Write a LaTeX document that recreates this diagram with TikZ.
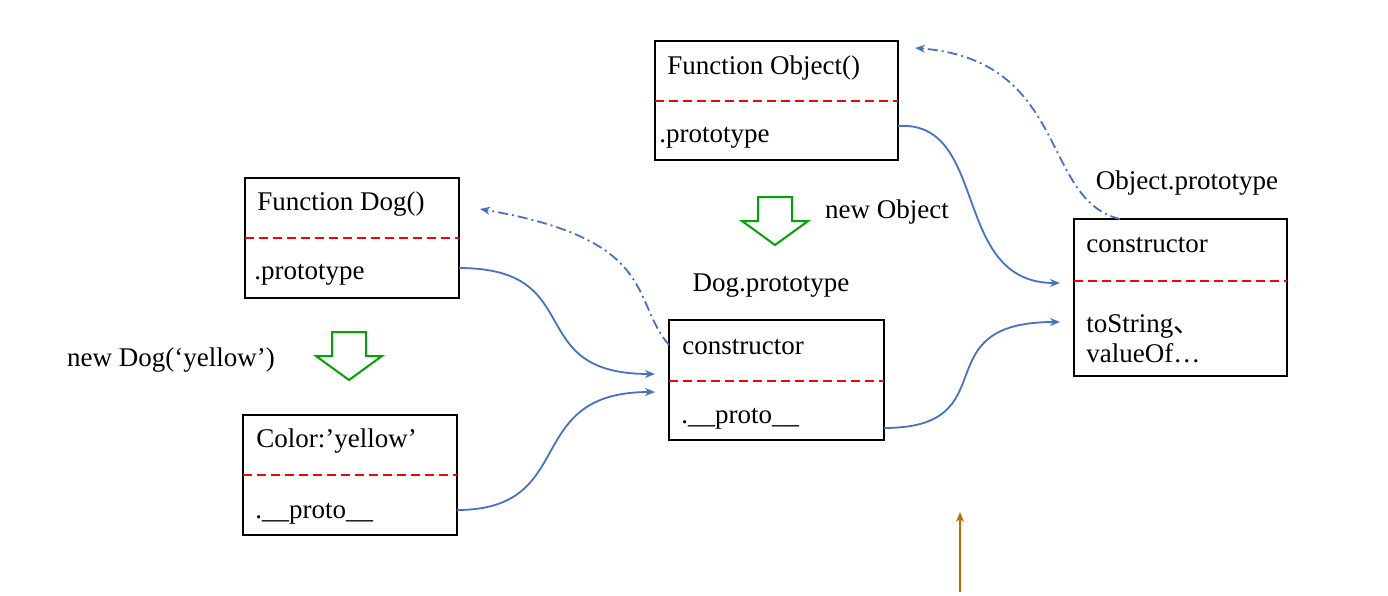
\documentclass[tikz,border=0pt]{standalone}
\usepackage{fontspec}
\setmainfont{Liberation Serif}
\newfontfamily\cjk{Noto Sans CJK SC}
\usetikzlibrary{arrows.meta}
\definecolor{lnk}{HTML}{4472C4}
\begin{document}
\begin{tikzpicture}[x=0.5pt,y=-0.5pt,
  box/.style={draw,line width=0.9pt},
  sep/.style={red,line width=1.3pt,dash pattern=on 4.5pt off 2.5pt},
  txt/.style={font=\fontsize{13.5}{15}\selectfont,anchor=west,inner sep=0},
  lbl/.style={font=\fontsize{13.5}{15}\selectfont,inner sep=0},
  link/.style={draw=lnk,line width=0.9pt,-{Stealth[length=5pt,width=4pt]}},
  dlink/.style={link,dash pattern=on 5pt off 2pt on 1pt off 2pt},
  hollow/.style={draw=green!65!black,line width=1pt,fill=white}]
\useasboundingbox (0,0) rectangle (1388,595);
% boxes
\node[box,minimum width=121.5pt,minimum height=59.5pt] (fo) at (776.5,100.5) {};
\draw[sep] (655,101) -- (898,101);
\node[txt] (fot) at (667,68) {Function Object()};
\node[txt] (fop) at (659,138) {.prototype};

\node[box,minimum width=107pt,minimum height=60pt] (fd) at (352,238) {};
\draw[sep] (245,238) -- (459,238);
\node[txt] (fdt) at (257,204) {Function Dog()};
\node[txt] (fdp) at (254,275) {.prototype};

\node[box,minimum width=107pt,minimum height=60pt] (cb) at (350,475) {};
\draw[sep] (243,475) -- (457,475);
\node[txt] (cbt) at (256,441) {Color:’yellow’};
\node[txt] (cbp) at (255,514) {.\_\_proto\_\_};

\node[box,minimum width=107.5pt,minimum height=60pt] (dp) at (776.5,380) {};
\draw[sep] (669,381) -- (884,381);
\node[txt] (dpt) at (682,347) {constructor};
\node[txt] (dpp) at (681,419) {.\_\_proto\_\_};

\node[box,minimum width=106.5pt,minimum height=78.5pt] (op) at (1180.5,297.5) {};
\draw[sep] (1074,281) -- (1287,281);
\node[txt] (opt) at (1086,245) {constructor};
\node[txt,align=left] (opp) at (1086,339) {toString{\cjk 、}\\valueOf…};

% labels
\node[lbl] (l1) at (1187,183) {Object.prototype};
\node[lbl] (l2) at (771,286) {Dog.prototype};
\node[lbl] (l3) at (887,212) {new Object};
\node[lbl] (l4) at (171,360) {new Dog(‘yellow’)};

% hollow arrows
\draw[hollow] (758,197) -- (792,197) -- (792,221) -- (808,221) -- (775,245) -- (742,221) -- (758,221) -- cycle;
\draw[hollow] (332,332) -- (366,332) -- (366,356) -- (382,356) -- (349,380) -- (316,356) -- (332,356) -- cycle;

% connectors
\coordinate (a1) at (898,126); \coordinate (a2) at (1060,283);
\draw[link] (a1) .. controls (990,120) and (950,283) .. (a2);
\coordinate (b1) at (459,268); \coordinate (b2) at (655,374);
\draw[link] (b1) .. controls (590,268) and (520,374) .. (b2);
\coordinate (c1) at (457,510); \coordinate (c2) at (655,392);
\draw[link] (c1) .. controls (580,510) and (520,392) .. (c2);
\coordinate (d1) at (884,428); \coordinate (d2) at (1060,322);
\draw[link] (d1) .. controls (1010,428) and (920,322) .. (d2);
\coordinate (e1) at (669,345); \coordinate (e2) at (480,209);
\draw[dlink] (e1) .. controls (630,300) and (660,240) .. (e2);
\coordinate (f1) at (1120,219); \coordinate (f2) at (915,48);
\draw[dlink] (f1) .. controls (1040,200) and (1070,60) .. (f2);
\coordinate (g1) at (960,592); \coordinate (g2) at (960,512);
\draw[draw=orange!80!black,line width=0.6pt,-{Stealth[length=5pt,width=4pt]}] (g1) -- (g2);
\end{tikzpicture}
\end{document}
